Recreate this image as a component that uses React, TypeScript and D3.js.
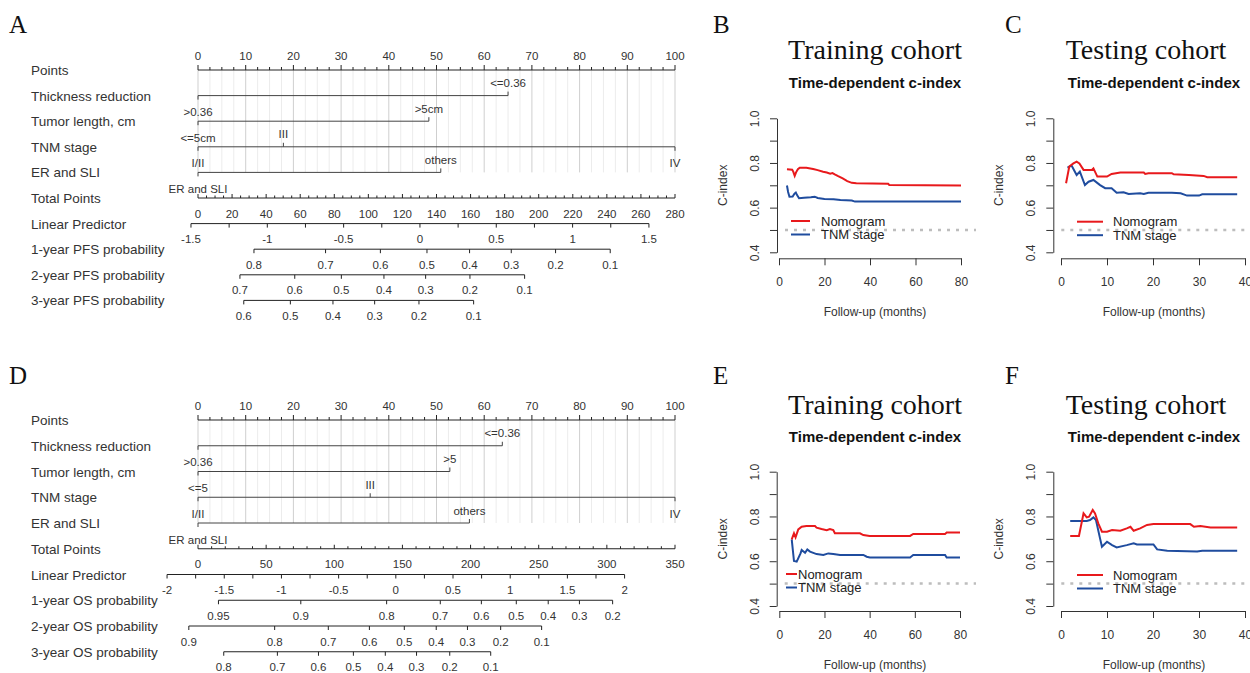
import React, { useEffect, useRef } from 'react';
import * as d3 from 'd3';

const W = 1250;
const H = 673;
const SANS = '"Liberation Sans", Arial, Helvetica, sans-serif';
const SERIF = '"Liberation Serif", "Times New Roman", serif';

// ---------------- nomogram data ----------------
const pointsTicks = [0, 10, 20, 30, 40, 50, 60, 70, 80, 90, 100];
const variableNames = ['Thickness reduction', 'Tumor length, cm', 'TNM stage', 'ER and SLI'];

// A : PFS nomogram
const pfsThickLevels = ['>0.36', '<=0.36'];
const pfsThickPts = [0, 65];
const pfsLengthLevels = ['<=5cm', '>5cm'];
const pfsLengthPts = [0, 48.4];
const pfsTnmLevels = ['I/II', 'III', 'IV'];
const pfsTnmPts = [0, 17.9, 100];
const pfsErLevels = ['ER and SLI', 'others'];
const pfsErPts = [0, 50.9];
const pfsTotalTicks = [0, 20, 40, 60, 80, 100, 120, 140, 160, 180, 200, 220, 240, 260, 280];
const pfsLpTicks = [-1.5, -1, -0.5, 0, 0.5, 1, 1.5];
const pfsLpIntercept = -1.454; // linear predictor at 0 total points
const pfsLpSlope = 0.01116; // per total point
const pfsProbNames = ['1-year PFS probability', '2-year PFS probability', '3-year PFS probability'];
const pfsBaseHazard = [0.662, 1.16, 1.62];
const pfs1yTicks = [0.8, 0.7, 0.6, 0.5, 0.4, 0.3, 0.2, 0.1];
const pfs2yTicks = [0.7, 0.6, 0.5, 0.4, 0.3, 0.2, 0.1];
const pfs3yTicks = [0.6, 0.5, 0.4, 0.3, 0.2, 0.1];

// D : OS nomogram
const osThickLevels = ['>0.36', '<=0.36'];
const osThickPts = [0, 63.8];
const osLengthLevels = ['<=5', '>5'];
const osLengthPts = [0, 52.8];
const osTnmLevels = ['I/II', 'III', 'IV'];
const osTnmPts = [0, 36.1, 100];
const osErLevels = ['ER and SLI', 'others'];
const osErPts = [0, 56.9];
const osTotalTicks = [0, 50, 100, 150, 200, 250, 300, 350];
const osLpTicks = [-2, -1.5, -1, -0.5, 0, 0.5, 1, 1.5, 2];
const osLpIntercept = -1.7295;
const osLpSlope = 0.011915;
const osProbNames = ['1-year OS probability', '2-year OS probability', '3-year OS probability'];
const osBaseHazard = [0.2418, 0.6436, 1.0045];
const os1yTicks = [0.95, 0.9, 0.8, 0.7, 0.6, 0.5, 0.4, 0.3, 0.2];
const os2yTicks = [0.9, 0.8, 0.7, 0.6, 0.5, 0.4, 0.3, 0.2, 0.1];
const os3yTicks = [0.8, 0.7, 0.6, 0.5, 0.4, 0.3, 0.2, 0.1];

// ---------------- time-dependent c-index ----------------
const cTicks = [0.4, 0.5, 0.6, 0.7, 0.8, 0.9, 1.0];
const cLabels = [0.4, 0.6, 0.8, 1.0];
const trainTicks = [0, 20, 40, 60, 80];
const testTicks = [0, 10, 20, 30, 40];

const bNomogram: [number, number][] = [
  [3.5, 0.772], [5.8, 0.770], [6.3, 0.760], [6.9, 0.742], [7.5, 0.758], [8.3, 0.772], [9.1, 0.779],
  [12, 0.779], [15, 0.773], [17, 0.768], [19.4, 0.761], [21, 0.757], [22.5, 0.752], [23.5, 0.755],
  [24.5, 0.749], [26, 0.741], [28, 0.731], [30, 0.719], [32, 0.711], [34, 0.709], [48, 0.707],
  [48.5, 0.701], [80, 0.699],
];
const bTnm: [number, number][] = [
  [3.5, 0.699], [4.0, 0.670], [4.6, 0.649], [6.0, 0.650], [6.8, 0.662], [7.4, 0.667], [8.0, 0.655],
  [8.8, 0.642], [11, 0.644], [14, 0.646], [15.7, 0.649], [17, 0.643], [20, 0.639], [24, 0.637],
  [27, 0.634], [32, 0.632], [33.4, 0.627], [80, 0.627],
];
const cNomogram: [number, number][] = [
  [1.1, 0.709], [1.8, 0.784], [2.7, 0.798], [3.4, 0.806], [4.0, 0.798], [4.9, 0.769], [6.7, 0.769],
  [7.05, 0.776], [7.9, 0.739], [10, 0.739], [11, 0.751], [12.9, 0.757], [18, 0.757], [18.3, 0.751],
  [19, 0.754], [24.1, 0.754], [24.5, 0.749], [27.8, 0.746], [31, 0.742], [31.8, 0.736], [38.3, 0.736],
];
const cTnm: [number, number][] = [
  [1.4, 0.779], [2.3, 0.788], [3.4, 0.746], [4.1, 0.761], [5.2, 0.701], [6.0, 0.716], [7.05, 0.724],
  [8.5, 0.701], [9.6, 0.687], [11, 0.687], [12.1, 0.667], [13.6, 0.669], [14.7, 0.661], [17.2, 0.664],
  [18, 0.661], [19, 0.667], [24.1, 0.667], [26, 0.664], [27.4, 0.654], [30, 0.654], [30.7, 0.660],
  [38.3, 0.660],
];
const eNomogram: [number, number][] = [
  [5.5, 0.698], [6.5, 0.725], [7.2, 0.707], [8.4, 0.742], [9.9, 0.754], [12, 0.757], [15.8, 0.757],
  [16.5, 0.750], [18.7, 0.744], [21, 0.739], [22.4, 0.744], [23.9, 0.739], [24.6, 0.725], [35.7, 0.725],
  [37.2, 0.717], [40, 0.713], [57.9, 0.713], [59.3, 0.722], [73.4, 0.722], [74.1, 0.728], [80, 0.728],
];
const eTnm: [number, number][] = [
  [5.5, 0.698], [6.5, 0.601], [7.7, 0.598], [9.4, 0.635], [9.9, 0.650], [11.4, 0.638], [12.4, 0.653],
  [13.6, 0.643], [16.5, 0.632], [19.5, 0.628], [21.7, 0.635], [23.9, 0.632], [26.9, 0.628], [37.2, 0.628],
  [38.7, 0.620], [40.1, 0.617], [57.9, 0.617], [59.3, 0.628], [73.4, 0.628], [74.1, 0.617], [80, 0.617],
];
const fNomogram: [number, number][] = [
  [2.0, 0.713], [3.9, 0.713], [4.9, 0.814], [5.6, 0.796], [6.1, 0.799], [6.9, 0.829], [7.4, 0.814],
  [8.1, 0.769], [8.9, 0.732], [10, 0.732], [11.1, 0.739], [12.9, 0.736], [14.3, 0.747], [15.1, 0.754],
  [15.8, 0.736], [17.2, 0.747], [18.7, 0.762], [20.1, 0.766], [28.1, 0.766], [28.9, 0.754], [30.3, 0.757],
  [32.5, 0.751], [38.3, 0.751],
];
const fTnm: [number, number][] = [
  [2.0, 0.780], [5.6, 0.780], [6.3, 0.784], [7.05, 0.796], [7.6, 0.784], [8.4, 0.710], [8.9, 0.665],
  [10, 0.687], [11.1, 0.672], [12.1, 0.662], [14.3, 0.672], [15.8, 0.680], [16.5, 0.675], [20.1, 0.675],
  [20.9, 0.653], [23.1, 0.647], [29.6, 0.643], [30.7, 0.647], [38.3, 0.647],
];

const RED = '#e8191c';
const BLUE = '#1f4c9e';

function drawNomogram(svg: any, cfg: any) {
  const g = svg.append('g');
  const xPts = d3.scaleLinear().domain([0, 100]).range([198, 675]);
  const xTot = d3.scaleLinear().domain([0, cfg.totalMax]).range([198, 675]);
  const xLp = (lp: number) => xTot((lp - cfg.lpIntercept) / cfg.lpSlope);
  const xProb = (p: number, h0: number) => xLp(Math.log(-Math.log(p) / h0));
  const rowY = (i: number) => cfg.top + i * cfg.gap;
  const ink = '#333';
  const fs = '11.5px';

  // row names
  const names = ['Points', ...variableNames, 'Total Points', 'Linear Predictor', ...cfg.probNames];
  names.forEach((n: string, i: number) => {
    g.append('text').attr('x', 31).attr('y', rowY(i) + 5)
      .style('font-family', SANS).style('font-size', '13.5px').attr('fill', '#333').text(n);
  });

  // grid
  const gridBottom = rowY(variableNames.length);
  d3.range(0, 100.01, 2.5).forEach(v => {
    g.append('line').attr('x1', xPts(v)).attr('x2', xPts(v))
      .attr('y1', rowY(0)).attr('y2', gridBottom)
      .attr('stroke', v % 10 === 0 ? '#cfcfcf' : '#ececec').attr('stroke-width', 1);
  });

  // points axis
  const y0 = rowY(0);
  g.append('line').attr('x1', xPts(0)).attr('x2', xPts(100)).attr('y1', y0).attr('y2', y0)
    .attr('stroke', '#222');
  d3.range(0, 100.01, 2.5).forEach(v => {
    const major = v % 10 === 0;
    g.append('line').attr('x1', xPts(v)).attr('x2', xPts(v)).attr('y1', y0).attr('y2', y0 - (major ? 5 : 3))
      .attr('stroke', '#222');
  });
  pointsTicks.forEach(v => {
    g.append('text').attr('x', xPts(v)).attr('y', y0 - 10.5).attr('text-anchor', 'middle')
      .style('font-family', SANS).style('font-size', fs).attr('fill', ink).text(v);
  });

  // variables
  cfg.levels.forEach((lv: string[], i: number) => {
    const pts: number[] = cfg.pts[i];
    const y = rowY(i + 1);
    g.append('line').attr('x1', xPts(d3.min(pts)!)).attr('x2', xPts(d3.max(pts)!))
      .attr('y1', y).attr('y2', y).attr('stroke', '#444');
    lv.forEach((name, j) => {
      const below = j % 2 === 0;
      g.append('line').attr('x1', xPts(pts[j])).attr('x2', xPts(pts[j]))
        .attr('y1', y).attr('y2', below ? y + 4 : y - 4).attr('stroke', '#444');
      g.append('text').attr('x', xPts(pts[j])).attr('y', below ? y + 20.5 : y - 8.5)
        .attr('text-anchor', 'middle').style('font-family', SANS).style('font-size', fs)
        .attr('fill', ink).text(name);
    });
  });

  // total points
  const yT = rowY(5);
  g.append('line').attr('x1', xTot(0)).attr('x2', xTot(cfg.totalMax)).attr('y1', yT).attr('y2', yT)
    .attr('stroke', '#222');
  d3.range(0, cfg.totalMax + 0.01, cfg.totalMinor).forEach(v => {
    const major = cfg.totalTicks.includes(v);
    g.append('line').attr('x1', xTot(v)).attr('x2', xTot(v)).attr('y1', yT).attr('y2', yT - (major ? 4 : 2.5))
      .attr('stroke', '#222');
  });
  cfg.totalTicks.forEach((v: number) => {
    g.append('text').attr('x', xTot(v)).attr('y', yT + 19.5).attr('text-anchor', 'middle')
      .style('font-family', SANS).style('font-size', fs).attr('fill', ink).text(v);
  });

  // linear predictor
  const yL = rowY(6);
  const lpMin = d3.min(cfg.lpTicks as number[])!;
  const lpMax = d3.max(cfg.lpTicks as number[])!;
  g.append('line').attr('x1', xLp(lpMin)).attr('x2', xLp(lpMax)).attr('y1', yL).attr('y2', yL)
    .attr('stroke', '#222');
  d3.range(lpMin, lpMax + 0.001, 0.25).forEach(v => {
    g.append('line').attr('x1', xLp(v)).attr('x2', xLp(v)).attr('y1', yL).attr('y2', yL + 4)
      .attr('stroke', '#222');
  });
  cfg.lpTicks.forEach((v: number) => {
    g.append('text').attr('x', xLp(v)).attr('y', yL + 19.5).attr('text-anchor', 'middle')
      .style('font-family', SANS).style('font-size', fs).attr('fill', ink).text(String(v));
  });

  // probability axes
  cfg.probTicks.forEach((ticks: number[], k: number) => {
    const y = rowY(7 + k);
    const h0 = cfg.baseHazard[k];
    const xs = ticks.map(p => xProb(p, h0));
    g.append('line').attr('x1', d3.min(xs)!).attr('x2', d3.max(xs)!).attr('y1', y).attr('y2', y)
      .attr('stroke', '#222');
    ticks.forEach(p => {
      g.append('line').attr('x1', xProb(p, h0)).attr('x2', xProb(p, h0)).attr('y1', y).attr('y2', y + 4)
        .attr('stroke', '#222');
      g.append('text').attr('x', xProb(p, h0)).attr('y', y + 19.5).attr('text-anchor', 'middle')
        .style('font-family', SANS).style('font-size', fs).attr('fill', ink).text(String(p));
    });
  });
}

function drawCindex(svg: any, p: any) {
  const g = svg.append('g');
  const x = d3.scaleLinear().domain([0, p.xMax]).range([p.left, p.right]);
  const y = d3.scaleLinear().domain([0.4, 1.0]).range([p.bottom, p.top]);

  g.append('text').attr('x', p.titleX).attr('y', p.titleY).attr('text-anchor', 'middle')
    .style('font-family', SERIF).style('font-size', '28px').attr('fill', '#111').text(p.title);
  g.append('text').attr('x', p.subX).attr('y', p.titleY + 28.5).attr('text-anchor', 'middle')
    .style('font-family', SANS).style('font-size', '15px').style('font-weight', 'bold')
    .attr('fill', '#111').text('Time-dependent c-index');

  // reference 0.5 line
  g.append('line').attr('x1', p.axisX + 8).attr('x2', p.refEnd).attr('y1', y(0.5)).attr('y2', y(0.5))
    .attr('stroke', '#bdbdbd').attr('stroke-width', 2.5).attr('stroke-dasharray', '3,6');

  const yAxis = d3.axisLeft(y).tickValues(cTicks).tickSize(7).tickSizeOuter(0)
    .tickFormat((d: any) => (cLabels.includes(d) ? d3.format('.1f')(d) : ''));
  const ya = g.append('g').attr('transform', `translate(${p.axisX},0)`).call(yAxis);
  ya.selectAll('text').attr('x', 0).attr('y', -18).attr('dy', 0).attr('text-anchor', 'middle')
    .attr('transform', 'rotate(-90)');

  const xAxis = d3.axisBottom(x).tickValues(p.xTicks).tickSize(7).tickSizeOuter(0).tickPadding(12);
  const xa = g.append('g').attr('transform', `translate(0,${p.axisY})`).call(xAxis);

  [ya, xa].forEach(a => {
    a.attr('color', '#333');
    a.selectAll('text').style('font-family', SANS).style('font-size', '12px').attr('fill', '#333');
  });

  g.append('text').attr('transform', `translate(${p.axisX - 50},${y(0.7)}) rotate(-90)`)
    .attr('text-anchor', 'middle').style('font-family', SANS).style('font-size', '12px')
    .attr('fill', '#333').text('C-index');
  g.append('text').attr('x', p.subX).attr('y', p.axisY + 58).attr('text-anchor', 'middle')
    .style('font-family', SANS).style('font-size', '12px').attr('fill', '#333').text('Follow-up (months)');

  const line = d3.line<[number, number]>().x(d => x(d[0])).y(d => y(d[1]));
  g.append('path').attr('d', line(p.tnm)).attr('fill', 'none').attr('stroke', BLUE).attr('stroke-width', 2);
  g.append('path').attr('d', line(p.nomo)).attr('fill', 'none').attr('stroke', RED).attr('stroke-width', 2);

  // legend
  [['Nomogram', RED], ['TNM stage', BLUE]].forEach(([label, col], i) => {
    const ly = p.legY + i * 13.5;
    g.append('line').attr('x1', p.legX).attr('x2', p.legX + p.legLen).attr('y1', ly).attr('y2', ly)
      .attr('stroke', col).attr('stroke-width', 2);
    g.append('text').attr('x', p.legText).attr('y', ly + 4.5).style('font-family', SANS)
      .style('font-size', '13px').attr('fill', '#222').text(label);
  });
}

export default function App() {
  const ref = useRef<SVGSVGElement>(null);

  useEffect(() => {
    const svg = d3.select(ref.current);
    svg.selectAll('*').remove();

    // panel letters
    const letters: [string, number, number][] = [
      ['A', 9, 33], ['B', 713, 33], ['C', 1005, 33], ['D', 9, 384], ['E', 713, 384], ['F', 1005, 384],
    ];
    letters.forEach(([t, lx, ly]) => {
      svg.append('text').attr('x', lx).attr('y', ly).style('font-family', SERIF).style('font-size', '25px')
        .attr('fill', '#111').text(t);
    });

    drawNomogram(svg, {
      top: 70, gap: 25.6, totalMax: 280, totalMinor: 5, totalTicks: pfsTotalTicks,
      levels: [pfsThickLevels, pfsLengthLevels, pfsTnmLevels, pfsErLevels],
      pts: [pfsThickPts, pfsLengthPts, pfsTnmPts, pfsErPts],
      lpTicks: pfsLpTicks, lpIntercept: pfsLpIntercept, lpSlope: pfsLpSlope,
      probNames: pfsProbNames, baseHazard: pfsBaseHazard, probTicks: [pfs1yTicks, pfs2yTicks, pfs3yTicks],
    });
    drawNomogram(svg, {
      top: 420, gap: 25.75, totalMax: 350, totalMinor: 10, totalTicks: osTotalTicks,
      levels: [osThickLevels, osLengthLevels, osTnmLevels, osErLevels],
      pts: [osThickPts, osLengthPts, osTnmPts, osErPts],
      lpTicks: osLpTicks, lpIntercept: osLpIntercept, lpSlope: osLpSlope,
      probNames: osProbNames, baseHazard: osBaseHazard, probTicks: [os1yTicks, os2yTicks, os3yTicks],
    });

    drawCindex(svg, {
      title: 'Training cohort', titleX: 875, subX: 875, titleY: 59.3, xMax: 80, xTicks: trainTicks,
      left: 779, right: 961, top: 118.3, bottom: 252.3, axisX: 777, axisY: 258.3, refEnd: 976,
      legX: 791, legLen: 19, legText: 821, legY: 221, nomo: bNomogram, tnm: bTnm,
    });
    drawCindex(svg, {
      title: 'Testing cohort', titleX: 1146, subX: 1154, titleY: 59.3, xMax: 40, xTicks: testTicks,
      left: 1061, right: 1245, top: 118.3, bottom: 252.3, axisX: 1053.3, axisY: 258.3, refEnd: 1250,
      legX: 1077, legLen: 26, legText: 1113, legY: 221.7, nomo: cNomogram, tnm: cTnm,
    });
    drawCindex(svg, {
      title: 'Training cohort', titleX: 875, subX: 875, titleY: 413.5, xMax: 80, xTicks: trainTicks,
      left: 779.3, right: 960, top: 471.7, bottom: 606, axisX: 776.7, axisY: 611, refEnd: 976,
      legX: 786, legLen: 11, legText: 798, legY: 574, nomo: eNomogram, tnm: eTnm,
    });
    drawCindex(svg, {
      title: 'Testing cohort', titleX: 1146, subX: 1154, titleY: 413.5, xMax: 40, xTicks: testTicks,
      left: 1061, right: 1245, top: 471.7, bottom: 606, axisX: 1053.3, axisY: 611, refEnd: 1250,
      legX: 1077, legLen: 26, legText: 1113, legY: 575, nomo: fNomogram, tnm: fTnm,
    });
  }, []);

  return (
    <svg ref={ref} width={W} height={H}
      style={{ position: 'absolute', left: 0, top: 0, background: '#fff', display: 'block' }} />
  );
}
